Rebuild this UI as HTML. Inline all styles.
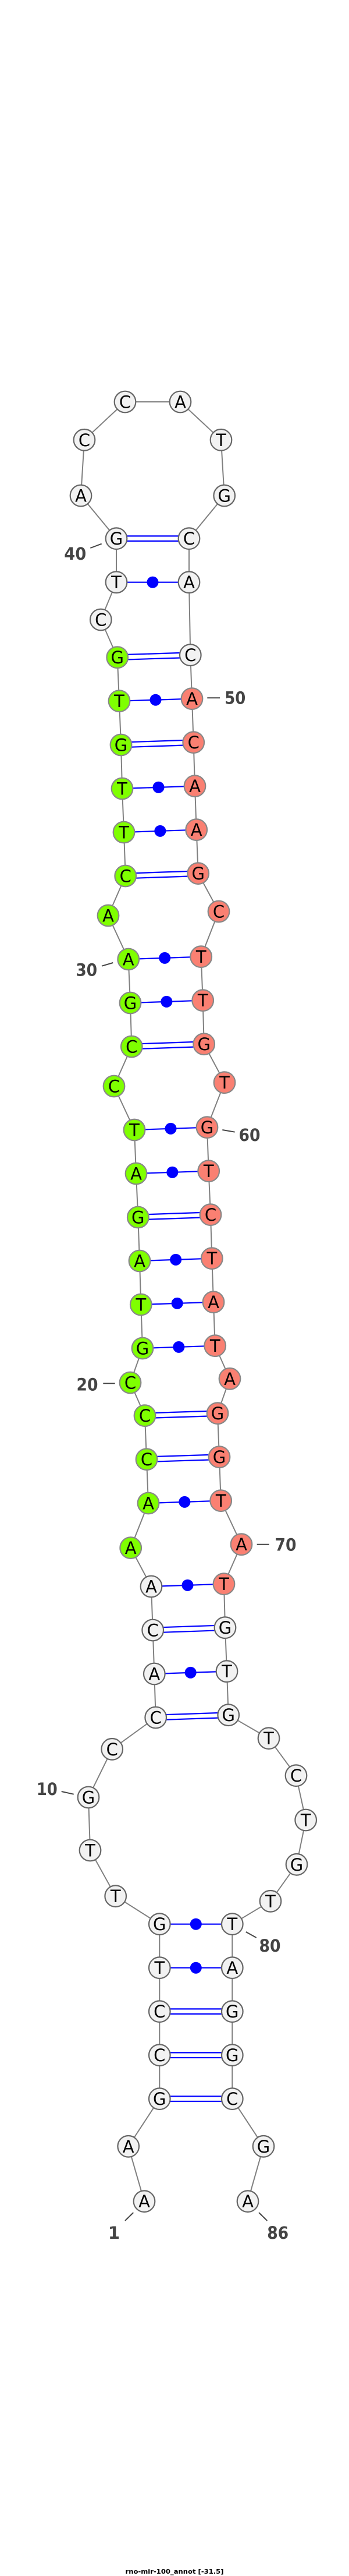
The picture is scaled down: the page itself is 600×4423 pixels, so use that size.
<!DOCTYPE html>
<html><head><meta charset="utf-8"><style>
html,body{margin:0;padding:0;background:#fff}
svg{display:block}
.w{fill:#f2f2f2;stroke:#666}.g{fill:#7fff00;stroke:#888}.s{fill:#fa8072;stroke:#888}
circle.w,circle.g,circle.s{stroke-width:2.2}
.n text{font:29px "DejaVu Sans",sans-serif;text-anchor:middle;fill:#000}
.l text{font:bold 29px "DejaVu Sans",sans-serif;text-anchor:middle;fill:#444}
.l line{stroke:#444;stroke-width:2}
.b line{stroke:#00f;stroke-width:2.2}
.d circle{fill:#00f}
</style></head><body>
<svg xmlns="http://www.w3.org/2000/svg" width="600" height="4423" viewBox="0 0 600 4423">
<polyline fill="none" stroke="#808080" stroke-width="2" points="248,3779.7 220.7,3685.3 274.3,3603.7 274.3,3528.7 274.3,3453.7 274.3,3378.7 274.3,3303.7 198.7,3255.7 155,3177 152,3086 192.7,3003.3 267.7,2949 265.3,2874 262.7,2799 260,2724 224.7,2657.7 255,2581 252,2505.7 249,2430.7 224,2374 245,2315 242.3,2240 240,2165 237.3,2090 234,2015 231,1940 196,1865 226.3,1797 224,1722 220.7,1647 186,1572 215.7,1504 213,1429 210,1354 208,1279 205,1203.7 201.7,1128.7 173.3,1064 200,999.7 200,924.7 139,851 145,755.3 215,690 310,690 380,755.3 385.7,851 325,924.7 325,999.7 327.3,1124.7 330,1199.7 332.7,1274.7 335,1349.7 337.7,1424.7 340.7,1499.7 376,1565 345.7,1642.7 348.7,1717.7 350.7,1792.7 386,1858.7 356,1935.7 358.7,2010.7 362,2085.7 364.3,2160.7 367,2235.7 369.7,2310.7 395,2367.3 374,2426.7 377,2501.7 379.7,2576.7 415,2651.7 385,2719.7 387,2794.7 390,2869.7 392.7,2944.7 462,2984.7 509,3048.7 525.7,3125 510,3201.3 465,3264.3 399.3,3303.7 399.3,3378.7 399.3,3453.7 399.3,3528.7 399.3,3603.7 453,3685.3 426,3779.7"/>
<g class="b">
<line x1="274.3" y1="3599.4" x2="399.3" y2="3599.4"/><line x1="274.3" y1="3608" x2="399.3" y2="3608"/>
<line x1="274.3" y1="3524.4" x2="399.3" y2="3524.4"/><line x1="274.3" y1="3533" x2="399.3" y2="3533"/>
<line x1="274.3" y1="3449.4" x2="399.3" y2="3449.4"/><line x1="274.3" y1="3458" x2="399.3" y2="3458"/>
<line x1="274.3" y1="3378.7" x2="399.3" y2="3378.7"/>
<line x1="274.3" y1="3303.7" x2="399.3" y2="3303.7"/>
<line x1="267.7" y1="2944.7" x2="392.7" y2="2940.4"/><line x1="267.7" y1="2953.3" x2="392.7" y2="2949"/>
<line x1="265.3" y1="2874" x2="390" y2="2869.7"/>
<line x1="262.7" y1="2794.7" x2="387" y2="2790.4"/><line x1="262.7" y1="2803.3" x2="387" y2="2799"/>
<line x1="260" y1="2724" x2="385" y2="2719.7"/>
<line x1="255" y1="2581" x2="379.7" y2="2576.7"/>
<line x1="252" y1="2501.4" x2="377" y2="2497.4"/><line x1="252" y1="2510" x2="377" y2="2506"/>
<line x1="249" y1="2426.4" x2="374" y2="2422.4"/><line x1="249" y1="2435" x2="374" y2="2431"/>
<line x1="245" y1="2315" x2="369.7" y2="2310.7"/>
<line x1="242.3" y1="2240" x2="367" y2="2235.7"/>
<line x1="240" y1="2165" x2="364.3" y2="2160.7"/>
<line x1="237.3" y1="2085.7" x2="362" y2="2081.4"/><line x1="237.3" y1="2094.3" x2="362" y2="2090"/>
<line x1="234" y1="2015" x2="358.7" y2="2010.7"/>
<line x1="231" y1="1940" x2="356" y2="1935.7"/>
<line x1="226.3" y1="1792.7" x2="350.7" y2="1788.4"/><line x1="226.3" y1="1801.3" x2="350.7" y2="1797"/>
<line x1="224" y1="1722" x2="348.7" y2="1717.7"/>
<line x1="220.7" y1="1647" x2="345.7" y2="1642.7"/>
<line x1="215.7" y1="1499.7" x2="340.7" y2="1495.4"/><line x1="215.7" y1="1508.3" x2="340.7" y2="1504"/>
<line x1="213" y1="1429" x2="337.7" y2="1424.7"/>
<line x1="210" y1="1354" x2="335" y2="1349.7"/>
<line x1="208" y1="1274.7" x2="332.7" y2="1270.4"/><line x1="208" y1="1283.3" x2="332.7" y2="1279"/>
<line x1="205" y1="1203.7" x2="330" y2="1199.7"/>
<line x1="201.7" y1="1124.4" x2="327.3" y2="1120.4"/><line x1="201.7" y1="1133" x2="327.3" y2="1129"/>
<line x1="200" y1="999.7" x2="325" y2="999.7"/>
<line x1="200" y1="920.4" x2="325" y2="920.4"/><line x1="200" y1="929" x2="325" y2="929"/>
</g>
<g class="d">
<circle cx="336.8" cy="3378.7" r="10"/><circle cx="336.8" cy="3303.7" r="10"/>
<circle cx="327.65" cy="2871.85" r="10"/><circle cx="322.5" cy="2721.85" r="10"/><circle cx="317.35" cy="2578.85" r="10"/>
<circle cx="307.35" cy="2312.85" r="10"/><circle cx="304.65" cy="2237.85" r="10"/><circle cx="302.15" cy="2162.85" r="10"/>
<circle cx="296.35" cy="2012.85" r="10"/><circle cx="293.5" cy="1937.85" r="10"/><circle cx="286.35" cy="1719.85" r="10"/>
<circle cx="283.2" cy="1644.85" r="10"/><circle cx="275.35" cy="1426.85" r="10"/><circle cx="272.5" cy="1351.85" r="10"/>
<circle cx="267.5" cy="1201.7" r="10"/><circle cx="262.5" cy="999.7" r="10"/>
</g>
<g class="n">
<circle class="w" cx="248" cy="3779.7" r="18.3"/><text x="248" y="3790.2">A</text>
<circle class="w" cx="220.7" cy="3685.3" r="18.3"/><text x="220.7" y="3695.8">A</text>
<circle class="w" cx="274.3" cy="3603.7" r="18.3"/><text x="274.3" y="3614.2">G</text>
<circle class="w" cx="274.3" cy="3528.7" r="18.3"/><text x="274.3" y="3539.2">C</text>
<circle class="w" cx="274.3" cy="3453.7" r="18.3"/><text x="274.3" y="3464.2">C</text>
<circle class="w" cx="274.3" cy="3378.7" r="18.3"/><text x="274.3" y="3389.2">T</text>
<circle class="w" cx="274.3" cy="3303.7" r="18.3"/><text x="274.3" y="3314.2">G</text>
<circle class="w" cx="198.7" cy="3255.7" r="18.3"/><text x="198.7" y="3266.2">T</text>
<circle class="w" cx="155" cy="3177" r="18.3"/><text x="155" y="3187.5">T</text>
<circle class="w" cx="152" cy="3086" r="18.3"/><text x="152" y="3096.5">G</text>
<circle class="w" cx="192.7" cy="3003.3" r="18.3"/><text x="192.7" y="3013.8">C</text>
<circle class="w" cx="267.7" cy="2949" r="18.3"/><text x="267.7" y="2959.5">C</text>
<circle class="w" cx="265.3" cy="2874" r="18.3"/><text x="265.3" y="2884.5">A</text>
<circle class="w" cx="262.7" cy="2799" r="18.3"/><text x="262.7" y="2809.5">C</text>
<circle class="w" cx="260" cy="2724" r="18.3"/><text x="260" y="2734.5">A</text>
<circle class="g" cx="224.7" cy="2657.7" r="18.3"/><text x="224.7" y="2668.2">A</text>
<circle class="g" cx="255" cy="2581" r="18.3"/><text x="255" y="2591.5">A</text>
<circle class="g" cx="252" cy="2505.7" r="18.3"/><text x="252" y="2516.2">C</text>
<circle class="g" cx="249" cy="2430.7" r="18.3"/><text x="249" y="2441.2">C</text>
<circle class="g" cx="224" cy="2374" r="18.3"/><text x="224" y="2384.5">C</text>
<circle class="g" cx="245" cy="2315" r="18.3"/><text x="245" y="2325.5">G</text>
<circle class="g" cx="242.3" cy="2240" r="18.3"/><text x="242.3" y="2250.5">T</text>
<circle class="g" cx="240" cy="2165" r="18.3"/><text x="240" y="2175.5">A</text>
<circle class="g" cx="237.3" cy="2090" r="18.3"/><text x="237.3" y="2100.5">G</text>
<circle class="g" cx="234" cy="2015" r="18.3"/><text x="234" y="2025.5">A</text>
<circle class="g" cx="231" cy="1940" r="18.3"/><text x="231" y="1950.5">T</text>
<circle class="g" cx="196" cy="1865" r="18.3"/><text x="196" y="1875.5">C</text>
<circle class="g" cx="226.3" cy="1797" r="18.3"/><text x="226.3" y="1807.5">C</text>
<circle class="g" cx="224" cy="1722" r="18.3"/><text x="224" y="1732.5">G</text>
<circle class="g" cx="220.7" cy="1647" r="18.3"/><text x="220.7" y="1657.5">A</text>
<circle class="g" cx="186" cy="1572" r="18.3"/><text x="186" y="1582.5">A</text>
<circle class="g" cx="215.7" cy="1504" r="18.3"/><text x="215.7" y="1514.5">C</text>
<circle class="g" cx="213" cy="1429" r="18.3"/><text x="213" y="1439.5">T</text>
<circle class="g" cx="210" cy="1354" r="18.3"/><text x="210" y="1364.5">T</text>
<circle class="g" cx="208" cy="1279" r="18.3"/><text x="208" y="1289.5">G</text>
<circle class="g" cx="205" cy="1203.7" r="18.3"/><text x="205" y="1214.2">T</text>
<circle class="g" cx="201.7" cy="1128.7" r="18.3"/><text x="201.7" y="1139.2">G</text>
<circle class="w" cx="173.3" cy="1064" r="18.3"/><text x="173.3" y="1074.5">C</text>
<circle class="w" cx="200" cy="999.7" r="18.3"/><text x="200" y="1010.2">T</text>
<circle class="w" cx="200" cy="924.7" r="18.3"/><text x="200" y="935.2">G</text>
<circle class="w" cx="139" cy="851" r="18.3"/><text x="139" y="861.5">A</text>
<circle class="w" cx="145" cy="755.3" r="18.3"/><text x="145" y="765.8">C</text>
<circle class="w" cx="215" cy="690" r="18.3"/><text x="215" y="700.5">C</text>
<circle class="w" cx="310" cy="690" r="18.3"/><text x="310" y="700.5">A</text>
<circle class="w" cx="380" cy="755.3" r="18.3"/><text x="380" y="765.8">T</text>
<circle class="w" cx="385.7" cy="851" r="18.3"/><text x="385.7" y="861.5">G</text>
<circle class="w" cx="325" cy="924.7" r="18.3"/><text x="325" y="935.2">C</text>
<circle class="w" cx="325" cy="999.7" r="18.3"/><text x="325" y="1010.2">A</text>
<circle class="w" cx="327.3" cy="1124.7" r="18.3"/><text x="327.3" y="1135.2">C</text>
<circle class="s" cx="330" cy="1199.7" r="18.3"/><text x="330" y="1210.2">A</text>
<circle class="s" cx="332.7" cy="1274.7" r="18.3"/><text x="332.7" y="1285.2">C</text>
<circle class="s" cx="335" cy="1349.7" r="18.3"/><text x="335" y="1360.2">A</text>
<circle class="s" cx="337.7" cy="1424.7" r="18.3"/><text x="337.7" y="1435.2">A</text>
<circle class="s" cx="340.7" cy="1499.7" r="18.3"/><text x="340.7" y="1510.2">G</text>
<circle class="s" cx="376" cy="1565" r="18.3"/><text x="376" y="1575.5">C</text>
<circle class="s" cx="345.7" cy="1642.7" r="18.3"/><text x="345.7" y="1653.2">T</text>
<circle class="s" cx="348.7" cy="1717.7" r="18.3"/><text x="348.7" y="1728.2">T</text>
<circle class="s" cx="350.7" cy="1792.7" r="18.3"/><text x="350.7" y="1803.2">G</text>
<circle class="s" cx="386" cy="1858.7" r="18.3"/><text x="386" y="1869.2">T</text>
<circle class="s" cx="356" cy="1935.7" r="18.3"/><text x="356" y="1946.2">G</text>
<circle class="s" cx="358.7" cy="2010.7" r="18.3"/><text x="358.7" y="2021.2">T</text>
<circle class="s" cx="362" cy="2085.7" r="18.3"/><text x="362" y="2096.2">C</text>
<circle class="s" cx="364.3" cy="2160.7" r="18.3"/><text x="364.3" y="2171.2">T</text>
<circle class="s" cx="367" cy="2235.7" r="18.3"/><text x="367" y="2246.2">A</text>
<circle class="s" cx="369.7" cy="2310.7" r="18.3"/><text x="369.7" y="2321.2">T</text>
<circle class="s" cx="395" cy="2367.3" r="18.3"/><text x="395" y="2377.8">A</text>
<circle class="s" cx="374" cy="2426.7" r="18.3"/><text x="374" y="2437.2">G</text>
<circle class="s" cx="377" cy="2501.7" r="18.3"/><text x="377" y="2512.2">G</text>
<circle class="s" cx="379.7" cy="2576.7" r="18.3"/><text x="379.7" y="2587.2">T</text>
<circle class="s" cx="415" cy="2651.7" r="18.3"/><text x="415" y="2662.2">A</text>
<circle class="s" cx="385" cy="2719.7" r="18.3"/><text x="385" y="2730.2">T</text>
<circle class="w" cx="387" cy="2794.7" r="18.3"/><text x="387" y="2805.2">G</text>
<circle class="w" cx="390" cy="2869.7" r="18.3"/><text x="390" y="2880.2">T</text>
<circle class="w" cx="392.7" cy="2944.7" r="18.3"/><text x="392.7" y="2955.2">G</text>
<circle class="w" cx="462" cy="2984.7" r="18.3"/><text x="462" y="2995.2">T</text>
<circle class="w" cx="509" cy="3048.7" r="18.3"/><text x="509" y="3059.2">C</text>
<circle class="w" cx="525.7" cy="3125" r="18.3"/><text x="525.7" y="3135.5">T</text>
<circle class="w" cx="510" cy="3201.3" r="18.3"/><text x="510" y="3211.8">G</text>
<circle class="w" cx="465" cy="3264.3" r="18.3"/><text x="465" y="3274.8">T</text>
<circle class="w" cx="399.3" cy="3303.7" r="18.3"/><text x="399.3" y="3314.2">T</text>
<circle class="w" cx="399.3" cy="3378.7" r="18.3"/><text x="399.3" y="3389.2">A</text>
<circle class="w" cx="399.3" cy="3453.7" r="18.3"/><text x="399.3" y="3464.2">G</text>
<circle class="w" cx="399.3" cy="3528.7" r="18.3"/><text x="399.3" y="3539.2">G</text>
<circle class="w" cx="399.3" cy="3603.7" r="18.3"/><text x="399.3" y="3614.2">C</text>
<circle class="w" cx="453" cy="3685.3" r="18.3"/><text x="453" y="3695.8">G</text>
<circle class="w" cx="426" cy="3779.7" r="18.3"/><text x="426" y="3790.2">A</text>
</g>
<g class="l">
<line x1="155.3" y1="941" x2="174.7" y2="933.7"/><text x="129.3" y="961" textLength="38" lengthAdjust="spacingAndGlyphs">40</text>
<line x1="356.3" y1="1198.3" x2="378" y2="1198.3"/><text x="404.3" y="1208.5" textLength="36" lengthAdjust="spacingAndGlyphs">50</text>
<line x1="175" y1="1658.7" x2="194.3" y2="1653"/><text x="148.7" y="1675.5" textLength="37" lengthAdjust="spacingAndGlyphs">30</text>
<line x1="382.3" y1="1940" x2="403.7" y2="1943.7"/><text x="429" y="1958.8" textLength="37" lengthAdjust="spacingAndGlyphs">60</text>
<line x1="177.3" y1="2375.3" x2="197.7" y2="2375.3"/><text x="150" y="2387.5" textLength="37" lengthAdjust="spacingAndGlyphs">20</text>
<line x1="441.7" y1="2651.7" x2="462.7" y2="2651.7"/><text x="491" y="2662.5" textLength="37" lengthAdjust="spacingAndGlyphs">70</text>
<line x1="105.7" y1="3076" x2="126.7" y2="3080.7"/><text x="80.7" y="3082" textLength="36" lengthAdjust="spacingAndGlyphs">10</text>
<line x1="422.7" y1="3317" x2="440.7" y2="3327"/><text x="464" y="3351" textLength="37" lengthAdjust="spacingAndGlyphs">80</text>
<line x1="215" y1="3813" x2="229.3" y2="3799"/><text x="196" y="3844">1</text>
<line x1="445" y1="3799" x2="459.3" y2="3813"/><text x="477.7" y="3844" textLength="37" lengthAdjust="spacingAndGlyphs">86</text>
</g>
<text x="300" y="4419" text-anchor="middle" textLength="169" lengthAdjust="spacingAndGlyphs" style="font:bold 11px 'DejaVu Sans',sans-serif;fill:#000">rno-mir-100_annot [-31.5]</text>
</svg>
</body></html>
